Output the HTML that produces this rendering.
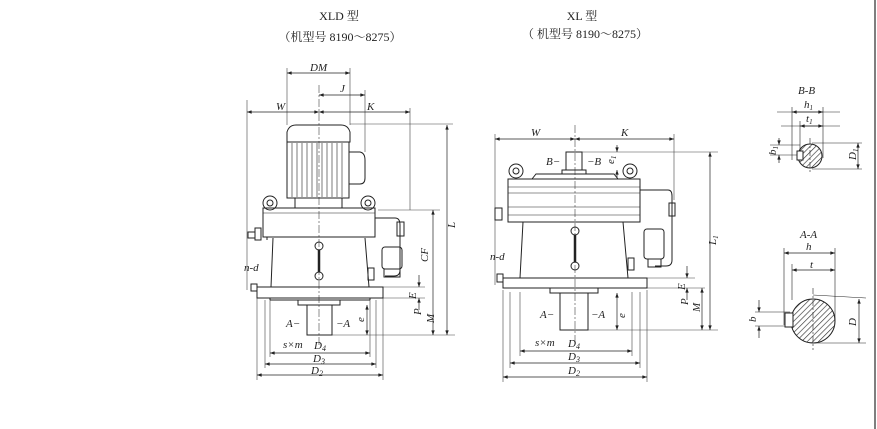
<!DOCTYPE html>
<html><head><meta charset="utf-8"><style>
html,body{margin:0;padding:0;background:#fff}
svg{display:block}
text{font-family:"Liberation Serif","Noto Serif CJK SC",serif;fill:#222}
.d{font-style:italic;font-size:11px}
</style></head><body>
<svg width="877" height="429" viewBox="0 0 877 429" xmlns="http://www.w3.org/2000/svg">
<defs>
<marker id="a" viewBox="0 0 8 6" refX="8" refY="3" markerWidth="7" markerHeight="5" orient="auto-start-reverse"><path d="M0,0L8,3L0,6z" fill="#222"/></marker>
<pattern id="h" width="4" height="4" patternUnits="userSpaceOnUse" patternTransform="rotate(45)"><line x1="0" y1="0" x2="0" y2="4" stroke="#333" stroke-width="1.3"/></pattern>
</defs>
<rect width="877" height="429" fill="#fff"/>
<line x1="875" y1="0" x2="875" y2="429" stroke="#555" stroke-width="1.5"/>
<text x="339" y="20" font-size="12" text-anchor="middle">XLD 型</text>
<text x="340" y="41" font-size="12" text-anchor="middle">（机型号 8190～8275）</text>
<text x="582" y="20" font-size="12" text-anchor="middle">XL 型</text>
<text x="585" y="38" font-size="12" text-anchor="middle">（ 机型号 8190～8275）</text>

<g stroke="#222" fill="none" stroke-width="1">
<!-- XLD -->
<g stroke-width="0.6" stroke="#444">
<line x1="319" y1="85" x2="319" y2="345" stroke-dasharray="8,2,2,2"/>
<line x1="247" y1="100" x2="247" y2="290"/><line x1="287" y1="68" x2="287" y2="125"/><line x1="350" y1="68" x2="350" y2="125"/>
<line x1="365" y1="90" x2="365" y2="152"/><line x1="410" y1="108" x2="410" y2="210"/>
<line x1="350" y1="124" x2="453" y2="124"/><line x1="378" y1="210" x2="440" y2="210"/>
<line x1="332" y1="335" x2="455" y2="335"/><line x1="383" y1="298" x2="425" y2="298"/><line x1="383" y1="287" x2="425" y2="287"/>
<line x1="257" y1="298" x2="257" y2="380"/><line x1="383" y1="298" x2="383" y2="380"/>
<line x1="265" y1="300" x2="265" y2="368"/><line x1="376" y1="300" x2="376" y2="368"/>
<line x1="270" y1="300" x2="270" y2="357"/><line x1="370" y1="300" x2="370" y2="357"/>
</g>
<g stroke-width="0.7">
<line x1="287" y1="73" x2="350" y2="73" marker-start="url(#a)" marker-end="url(#a)"/>
<line x1="319" y1="95" x2="365" y2="95" marker-start="url(#a)" marker-end="url(#a)"/>
<line x1="247" y1="112" x2="319" y2="112" marker-start="url(#a)" marker-end="url(#a)"/>
<line x1="319" y1="112" x2="410" y2="112" marker-start="url(#a)" marker-end="url(#a)"/>
<line x1="447" y1="125" x2="447" y2="335" marker-start="url(#a)" marker-end="url(#a)"/>
<line x1="433" y1="210" x2="433" y2="335" marker-start="url(#a)" marker-end="url(#a)"/>
<line x1="419" y1="275" x2="419" y2="287" marker-end="url(#a)"/><line x1="419" y1="310" x2="419" y2="298" marker-end="url(#a)"/>
<line x1="367" y1="305" x2="367" y2="335" marker-start="url(#a)" marker-end="url(#a)"/>
<line x1="270" y1="353" x2="370" y2="353" marker-start="url(#a)" marker-end="url(#a)"/>
<line x1="265" y1="364" x2="376" y2="364" marker-start="url(#a)" marker-end="url(#a)"/>
<line x1="257" y1="375" x2="383" y2="375" marker-start="url(#a)" marker-end="url(#a)"/>
</g>
<path d="M287,142 L287,132 Q289,125 296,125 L341,125 Q348,125 350,132 L350,142 Z"/>
<rect x="287" y="142" width="62" height="56"/>
<g stroke-width="0.6"><line x1="292" y1="143" x2="292" y2="197"/><line x1="297" y1="143" x2="297" y2="197"/><line x1="302" y1="143" x2="302" y2="197"/><line x1="307" y1="143" x2="307" y2="197"/><line x1="312" y1="143" x2="312" y2="197"/><line x1="317" y1="143" x2="317" y2="197"/><line x1="322" y1="143" x2="322" y2="197"/><line x1="327" y1="143" x2="327" y2="197"/><line x1="332" y1="143" x2="332" y2="197"/><line x1="337" y1="143" x2="337" y2="197"/><line x1="342" y1="143" x2="342" y2="197"/></g>
<path d="M349,152 L360,152 Q365,153 365,160 L365,178 Q365,184 360,184 L349,184"/>
<rect x="295" y="198" width="47" height="10"/>
<circle cx="270" cy="203" r="7"/><circle cx="270" cy="203" r="3"/>
<circle cx="368" cy="203" r="7"/><circle cx="368" cy="203" r="3"/>
<rect x="263" y="208" width="112" height="29"/><line x1="263" y1="213" x2="375" y2="213" stroke-width="0.6"/>
<line x1="267" y1="237" x2="267" y2="240"/>
<path d="M273,238 L271,287 M365,238 L369,287"/>
<path d="M255,228 l6,0 l0,12 l-6,0 z M248,232 l7,0 l0,6 l-7,0z"/>
<path d="M375,218 L395,218 Q400,218 400,225 L400,270 Q400,276 394,276 L385,276"/>
<rect x="397" y="222" width="7" height="14"/>
<rect x="382" y="247" width="20" height="22" rx="3"/><rect x="384" y="269" width="16" height="8"/>
<rect x="368" y="268" width="6" height="12"/>
<circle cx="319" cy="246" r="4"/><circle cx="319" cy="276" r="4"/><line x1="319" y1="250" x2="319" y2="272" stroke-width="2.5"/>
<rect x="257" y="287" width="126" height="11"/>
<rect x="251" y="284" width="6" height="7"/>
<line x1="270" y1="298" x2="270" y2="300"/><line x1="370" y1="298" x2="370" y2="300"/><line x1="270" y1="300" x2="370" y2="300"/>
<rect x="298" y="300" width="42" height="5"/>
<rect x="307" y="305" width="25" height="30"/>

<!-- XL -->
<g stroke-width="0.6" stroke="#444">
<line x1="575" y1="125" x2="575" y2="345" stroke-dasharray="8,2,2,2"/>
<line x1="495" y1="134" x2="495" y2="285"/><line x1="674" y1="134" x2="674" y2="200"/>
<line x1="582" y1="152" x2="718" y2="152"/><line x1="588" y1="330" x2="718" y2="330"/>
<line x1="647" y1="278" x2="695" y2="278"/><line x1="647" y1="288" x2="705" y2="288"/>
<line x1="503" y1="290" x2="503" y2="382"/><line x1="647" y1="290" x2="647" y2="382"/>
<line x1="510" y1="292" x2="510" y2="368"/><line x1="640" y1="292" x2="640" y2="368"/>
<line x1="520" y1="292" x2="520" y2="356"/><line x1="632" y1="292" x2="632" y2="356"/>
</g>
<g stroke-width="0.7">
<line x1="495" y1="139" x2="575" y2="139" marker-start="url(#a)" marker-end="url(#a)"/>
<line x1="575" y1="139" x2="674" y2="139" marker-start="url(#a)" marker-end="url(#a)"/>
<line x1="710" y1="152" x2="710" y2="330" marker-start="url(#a)" marker-end="url(#a)"/>
<line x1="702" y1="288" x2="702" y2="330" marker-start="url(#a)" marker-end="url(#a)"/>
<line x1="687" y1="266" x2="687" y2="278" marker-end="url(#a)"/><line x1="687" y1="300" x2="687" y2="288" marker-end="url(#a)"/>
<line x1="617" y1="293" x2="617" y2="330" marker-start="url(#a)" marker-end="url(#a)"/>
<line x1="617" y1="145" x2="617" y2="152" marker-end="url(#a)"/><line x1="617" y1="178" x2="617" y2="170" marker-end="url(#a)"/>
<line x1="520" y1="351" x2="632" y2="351" marker-start="url(#a)" marker-end="url(#a)"/>
<line x1="510" y1="363" x2="640" y2="363" marker-start="url(#a)" marker-end="url(#a)"/>
<line x1="503" y1="377" x2="647" y2="377" marker-start="url(#a)" marker-end="url(#a)"/>
</g>
<rect x="566" y="152" width="16" height="18"/><rect x="562" y="170" width="24" height="4"/>
<path d="M532,179 L536,174 L614,174 L618,179"/>
<circle cx="516" cy="171" r="7"/><circle cx="516" cy="171" r="3"/>
<circle cx="630" cy="171" r="7"/><circle cx="630" cy="171" r="3"/>
<rect x="508" y="179" width="132" height="43"/>
<g stroke-width="0.6"><line x1="508" y1="187" x2="640" y2="187"/><line x1="508" y1="193" x2="640" y2="193"/><line x1="508" y1="207" x2="640" y2="207"/><line x1="508" y1="215" x2="640" y2="215"/></g>
<path d="M523,222 L520,278 M623,222 L628,278"/>
<path d="M495,208 l7,0 l0,12 l-7,0z"/>
<path d="M640,190 L668,190 Q672,190 672,196 L672,260 Q672,266 666,266 L655,266"/>
<rect x="669" y="203" width="6" height="13"/>
<rect x="644" y="229" width="20" height="30" rx="3"/><rect x="648" y="259" width="13" height="8"/>
<rect x="628" y="258" width="6" height="12"/>
<circle cx="575" cy="231" r="4"/><circle cx="575" cy="266" r="4"/><line x1="575" y1="235" x2="575" y2="262" stroke-width="2.5"/>
<rect x="503" y="278" width="144" height="10"/>
<rect x="497" y="274" width="6" height="8"/>
<line x1="518" y1="288" x2="632" y2="288"/>
<rect x="550" y="288" width="48" height="5"/>
<rect x="560" y="293" width="28" height="37"/>

<!-- sections -->
<g stroke-width="0.6">
<line x1="777" y1="112" x2="840" y2="112"/><line x1="781" y1="126" x2="840" y2="126"/>
<line x1="792" y1="107" x2="792" y2="160"/><line x1="823" y1="107" x2="823" y2="158"/><line x1="800" y1="121" x2="800" y2="152"/>
<line x1="770" y1="145" x2="800" y2="145"/><line x1="770" y1="155" x2="800" y2="155"/>
<line x1="812" y1="143" x2="862" y2="143"/><line x1="812" y1="169" x2="862" y2="169"/>
<line x1="784" y1="248" x2="784" y2="325"/><line x1="835" y1="248" x2="835" y2="320"/><line x1="792" y1="264" x2="792" y2="300"/>
<line x1="755" y1="312" x2="790" y2="312"/><line x1="755" y1="326" x2="790" y2="326"/>
<line x1="813" y1="295" x2="866" y2="298"/><line x1="813" y1="343" x2="866" y2="343"/>
<line x1="813" y1="288" x2="813" y2="350" stroke-dasharray="6,2,2,2"/>
<line x1="810" y1="138" x2="810" y2="174" stroke-dasharray="6,2,2,2"/>
</g>
<g stroke-width="0.7">
<line x1="792" y1="112" x2="823" y2="112" marker-start="url(#a)" marker-end="url(#a)"/>
<line x1="800" y1="126" x2="823" y2="126" marker-start="url(#a)" marker-end="url(#a)"/>
<line x1="779" y1="138" x2="779" y2="145" marker-end="url(#a)"/><line x1="779" y1="163" x2="779" y2="155" marker-end="url(#a)"/>
<line x1="858" y1="143" x2="858" y2="169" marker-start="url(#a)" marker-end="url(#a)"/>
<line x1="784" y1="253" x2="835" y2="253" marker-start="url(#a)" marker-end="url(#a)"/>
<line x1="792" y1="270" x2="835" y2="270" marker-start="url(#a)" marker-end="url(#a)"/>
<line x1="759" y1="300" x2="759" y2="312" marker-end="url(#a)"/><line x1="759" y1="338" x2="759" y2="326" marker-end="url(#a)"/>
<line x1="859" y1="299" x2="859" y2="343" marker-start="url(#a)" marker-end="url(#a)"/>
</g>
<circle cx="810" cy="156" r="12" fill="url(#h)"/><rect x="797" y="151" width="6" height="9" fill="#fff"/>
<circle cx="813" cy="321" r="22" fill="url(#h)"/><rect x="785" y="313" width="8" height="14" fill="#fff"/>
</g>

<g class="d">
<text x="310" y="71">DM</text><text x="340" y="92">J</text>
<text x="276" y="110">W</text><text x="367" y="110">K</text>
<text x="455" y="228" transform="rotate(-90 455 228)">L</text>
<text x="428" y="262" transform="rotate(-90 428 262)">CF</text>
<text x="416" y="299" transform="rotate(-90 416 299)">E</text>
<text x="421" y="315" transform="rotate(-90 421 315)">P</text>
<text x="434" y="323" transform="rotate(-90 434 323)">M</text>
<text x="364" y="322" transform="rotate(-90 364 322)">e</text>
<text x="244" y="271">n-d</text>
<text x="286" y="327">A−</text><text x="336" y="327">−A</text>
<text x="283" y="348">s×m</text><text x="314" y="349">D<tspan font-size="8" dy="2">4</tspan></text>
<text x="313" y="362">D<tspan font-size="8" dy="2">3</tspan></text>
<text x="311" y="374">D<tspan font-size="8" dy="2">2</tspan></text>

<text x="531" y="136">W</text><text x="621" y="136">K</text>
<text x="546" y="165">B−</text><text x="587" y="165">−B</text>
<text x="614" y="164" transform="rotate(-90 614 164)">e<tspan font-size="7" dy="2">1</tspan></text>
<text x="716" y="245" transform="rotate(-90 716 245)">L<tspan font-size="7" dy="2">1</tspan></text>
<text x="685" y="290" transform="rotate(-90 685 290)">E</text>
<text x="688" y="305" transform="rotate(-90 688 305)">P</text>
<text x="700" y="312" transform="rotate(-90 700 312)">M</text>
<text x="625" y="318" transform="rotate(-90 625 318)">e</text>
<text x="490" y="260">n-d</text>
<text x="540" y="318">A−</text><text x="591" y="318">−A</text>
<text x="535" y="346">s×m</text><text x="568" y="347">D<tspan font-size="8" dy="2">4</tspan></text>
<text x="568" y="360">D<tspan font-size="8" dy="2">3</tspan></text>
<text x="568" y="374">D<tspan font-size="8" dy="2">2</tspan></text>

<text x="798" y="94">B-B</text><text x="804" y="108">h<tspan font-size="7" dy="2">1</tspan></text>
<text x="806" y="122">t<tspan font-size="7" dy="2">1</tspan></text>
<text x="776" y="155" transform="rotate(-90 776 155)">b<tspan font-size="7" dy="2">1</tspan></text>
<text x="856" y="160" transform="rotate(-90 856 160)">D<tspan font-size="7" dy="2">1</tspan></text>
<text x="800" y="238">A-A</text><text x="806" y="250">h</text><text x="810" y="268">t</text>
<text x="756" y="322" transform="rotate(-90 756 322)">b</text>
<text x="856" y="326" transform="rotate(-90 856 326)">D</text>
</g>
</svg>
</body></html>
